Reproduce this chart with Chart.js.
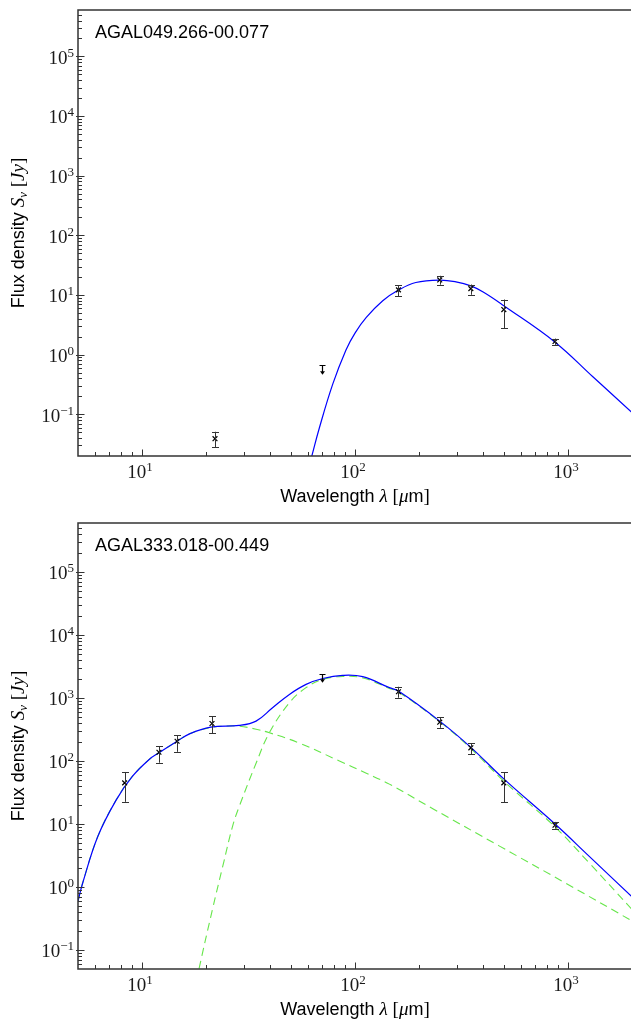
<!DOCTYPE html>
<html><head><meta charset="utf-8">
<script src="https://cdn.jsdelivr.net/npm/chart.js@4/dist/chart.umd.min.js"></script>
<style>
html,body{margin:0;padding:0;background:#fff;overflow:hidden;width:631px;height:1021px;position:relative}
.wrap{position:absolute;left:0;width:640px}
canvas{display:block}
</style></head><body>
<div class="wrap" style="top:0;height:510px"><canvas id="c1" width="640" height="510"></canvas></div>
<div class="wrap" style="top:510px;height:511px"><canvas id="c2" width="640" height="511"></canvas></div>
<script>
// ---------- axis ticks ----------
const xMin = 5, xMax = 2000;
const yMax = 6e5;
const xMajorTicks = [10, 100, 1000];
const xMajorExps = ['1', '2', '3'];
const yMajorTicks = [0.1, 1, 10, 100, 1000, 1e4, 1e5];
const yMajorExps = ['\u22121', '0', '1', '2', '3', '4', '5'];
const minorSubs = [2, 3, 4, 5, 6, 7, 8, 9];
const xTitleParts = ['Wavelength ', '\u03bb', ' [', '\u03bc', 'm', ']'];
const yTitleParts = ['Flux density ', 'S', '\u03bd', ' [', 'Jy', ']'];

// ---------- panel 1 : AGAL049.266-00.077 ----------
const p1Name = 'AGAL049.266-00.077';
const p1Wl   = [22, 160, 250, 350, 500, 870];
const p1Flux = [0.039, 12.2, 17.9, 12.8, 5.7, 1.66];
const p1Lo   = [0.028, 9.6, 14.9, 10.1, 2.8, 1.46];
const p1Hi   = [0.051, 14.5, 21.0, 15.0, 8.4, 1.86];
const p1LimWl = [70], p1LimCap = [0.66], p1LimTip = [0.46];
const p1FitWl   = [58, 62.7, 68, 78.6, 90.7, 100, 113, 135, 160, 193, 250, 298, 350, 400, 500, 870, 1306, 2000];
const p1FitFlux = [0.007, 0.02, 0.059, 0.32, 1.2, 2.3, 4.2, 8.0, 12.1, 16.2, 17.8, 16.6, 14.2, 11.2, 6.6, 1.62, 0.43, 0.107];

// ---------- panel 2 : AGAL333.018-00.449 ----------
const p2Name = 'AGAL333.018-00.449';
const p2Wl   = [8.28, 12.0, 14.6, 21.3, 160, 250, 350, 500, 870];
const p2Flux = [45, 138, 206, 394, 1258, 414, 162, 45, 9.55];
const p2Lo   = [22.5, 94, 140, 274, 1010, 337, 127, 22, 8.45];
const p2Hi   = [67, 172, 257, 516, 1510, 497, 190, 66, 10.8];
const p2LimWl = [70], p2LimCap = [2430], p2LimTip = [1740];
const p2TotWl   = [5, 5.26, 6.2, 7.55, 9, 10.8, 12, 14.6, 16.7, 21, 28.6, 34.3, 41, 49.2, 58.9, 70.5, 87.5, 108.7, 145, 160, 250, 350, 500, 870, 1260, 2000];
const p2TotFlux = [0.6, 1.16, 6.4, 24, 57, 106, 135, 206, 270, 345, 367, 430, 700, 1140, 1645, 2043, 2290, 2180, 1460, 1290, 430, 165, 52, 10, 3.07, 0.7];
const p2ColdWl   = [17.5, 18.5, 21.4, 23.9, 26.6, 28.6, 34.3, 39.6, 49.2, 58.9, 70.5, 87.5, 108, 145, 160, 250, 350, 500, 870, 1260, 2000];
const p2ColdFlux = [0.02, 0.05, 0.44, 2.1, 9.2, 19, 92, 281, 842, 1460, 1977, 2200, 2100, 1420, 1250, 420, 158, 48, 9.0, 2.4, 0.44];
const p2WarmWl   = [5, 5.26, 6.2, 7.55, 9, 10.8, 12, 14.6, 16.7, 21, 25, 28.6, 34.3, 39.6, 55, 84, 113, 145, 232, 475, 977, 2000];
const p2WarmFlux = [0.6, 1.16, 6.4, 24, 57, 106, 135, 206, 270, 340, 360, 357, 320, 281, 192, 101, 64, 43, 17.5, 4.5, 1.15, 0.29];

const SANS = '"Liberation Sans", Arial, sans-serif';
const SERIF = '"Liberation Serif", "DejaVu Serif", serif';
const AXC = '#333333';

function pts(xs, ys) { return xs.map((x, i) => ({x: x, y: ys[i]})); }

function drawParts(ctx, parts, x, y) {
  let cx = x;
  for (const p of parts) {
    ctx.font = p.f;
    ctx.fillText(p.t, cx, y + (p.dy || 0));
    cx += ctx.measureText(p.t).width;
  }
}
function partsWidth(ctx, parts) {
  let w = 0;
  for (const p of parts) { ctx.font = p.f; w += ctx.measureText(p.t).width; }
  return w;
}

function makePlugin(cfg) {
  return {
    id: 'sedDeco',
    afterDatasetsDraw(chart) {
      const ctx = chart.ctx, xs = chart.scales.x, ys = chart.scales.y;
      ctx.save();
      ctx.strokeStyle = '#333';
      ctx.lineWidth = 1;
      for (let i = 0; i < cfg.wl.length; i++) {
        const x = Math.round(xs.getPixelForValue(cfg.wl[i])) + 0.5;
        const yl = ys.getPixelForValue(cfg.lo[i]);
        const yh = ys.getPixelForValue(cfg.hi[i]);
        ctx.beginPath();
        ctx.moveTo(x, yl); ctx.lineTo(x, yh);
        ctx.moveTo(x - 3.5, Math.round(yl) + 0.5); ctx.lineTo(x + 3.5, Math.round(yl) + 0.5);
        ctx.moveTo(x - 3.5, Math.round(yh) + 0.5); ctx.lineTo(x + 3.5, Math.round(yh) + 0.5);
        ctx.stroke();
      }
      ctx.strokeStyle = '#000';
      ctx.fillStyle = '#000';
      for (let i = 0; i < cfg.limWl.length; i++) {
        const x = Math.round(xs.getPixelForValue(cfg.limWl[i])) + 0.5;
        const yc = Math.round(ys.getPixelForValue(cfg.limCap[i])) + 0.5;
        const yt = ys.getPixelForValue(cfg.limTip[i]);
        ctx.lineWidth = 1.2;
        ctx.beginPath();
        ctx.moveTo(x - 3, yc); ctx.lineTo(x + 3, yc);
        ctx.moveTo(x, yc); ctx.lineTo(x, yt - 2);
        ctx.stroke();
        ctx.beginPath();
        ctx.moveTo(x - 2.5, yt - 3.5); ctx.lineTo(x + 2.5, yt - 3.5); ctx.lineTo(x, yt);
        ctx.closePath(); ctx.fill();
      }
      ctx.restore();
    },
    afterDraw(chart) {
      const ctx = chart.ctx, xs = chart.scales.x, ys = chart.scales.y, ca = chart.chartArea;
      ctx.save();
      ctx.strokeStyle = AXC;
      ctx.lineWidth = 1.5;
      ctx.beginPath();
      ctx.moveTo(ca.left, ca.top); ctx.lineTo(ca.right + 20, ca.top);
      ctx.moveTo(ca.left, ca.top - 0.75); ctx.lineTo(ca.left, ca.bottom + 0.75);
      ctx.moveTo(ca.left - 0.75, ca.bottom); ctx.lineTo(ca.right + 20, ca.bottom);
      ctx.stroke();
      ctx.lineWidth = 1;
      ctx.beginPath();
      const yMinV = ys.min, yMaxV = ys.max;
      for (let d = -3; d <= 6; d++) {
        const base = Math.pow(10, d);
        if (base >= xMin && base <= xMax) {
          const px = Math.round(xs.getPixelForValue(base)) + 0.5;
          ctx.moveTo(px, ca.bottom); ctx.lineTo(px, ca.bottom - 6.5);
        }
        for (const s of minorSubs) {
          const v = s * base;
          if (v > xMin && v < xMax) {
            const px = Math.round(xs.getPixelForValue(v)) + 0.5;
            ctx.moveTo(px, ca.bottom); ctx.lineTo(px, ca.bottom - 4);
          }
          if (v > yMinV && v < yMaxV) {
            const py = Math.round(ys.getPixelForValue(v)) + 0.5;
            ctx.moveTo(ca.left, py); ctx.lineTo(ca.left + 4, py);
          }
        }
        if (base >= yMinV && base <= yMaxV) {
          const py = Math.round(ys.getPixelForValue(base)) + 0.5;
          ctx.moveTo(ca.left - 2, py); ctx.lineTo(ca.left + 6.5, py);
        }
      }
      ctx.stroke();
      ctx.fillStyle = '#1a1a1a';
      ctx.textBaseline = 'alphabetic';
      ctx.textAlign = 'left';
      const baseF = '19px ' + SERIF, supF = '13px ' + SERIF;
      yMajorTicks.forEach((v, i) => {
        if (v < yMinV || v > yMaxV) return;
        const py = ys.getPixelForValue(v);
        const parts = [{t: '10', f: baseF}, {t: yMajorExps[i], f: supF, dy: -7}];
        const w = partsWidth(ctx, parts);
        drawParts(ctx, parts, 74 - w, py + 7.3);
      });
      xMajorTicks.forEach((v, i) => {
        const px = xs.getPixelForValue(v);
        const parts = [{t: '10', f: baseF}, {t: xMajorExps[i], f: supF, dy: -7}];
        const w = partsWidth(ctx, parts);
        drawParts(ctx, parts, px - 2 - w / 2, ca.bottom + 21.5);
      });
      ctx.fillStyle = '#000';
      const xParts = [
        {t: xTitleParts[0], f: '18px ' + SANS},
        {t: xTitleParts[1], f: 'italic 19px ' + SERIF},
        {t: xTitleParts[2], f: '19px ' + SERIF},
        {t: xTitleParts[3], f: 'italic 19px ' + SERIF},
        {t: xTitleParts[4], f: '18px ' + SANS},
        {t: xTitleParts[5], f: '19px ' + SERIF}
      ];
      const xw = partsWidth(ctx, xParts);
      const cx = (ca.left + 632) / 2;
      drawParts(ctx, xParts, cx - xw / 2, ca.bottom + 46);
      const yParts = [
        {t: yTitleParts[0], f: '18px ' + SANS},
        {t: yTitleParts[1], f: 'italic 19px ' + SERIF},
        {t: yTitleParts[2], f: 'italic 13px ' + SERIF, dy: 3},
        {t: yTitleParts[3], f: '19px ' + SERIF},
        {t: yTitleParts[4], f: 'italic 19px ' + SERIF},
        {t: yTitleParts[5], f: '19px ' + SERIF}
      ];
      const yw = partsWidth(ctx, yParts);
      const cy = (ca.top + ca.bottom) / 2;
      ctx.save();
      ctx.translate(24, cy);
      ctx.rotate(-Math.PI / 2);
      drawParts(ctx, yParts, -yw / 2, 0);
      ctx.restore();
      ctx.font = '18px ' + SANS;
      ctx.fillText(cfg.name, ca.left + 17, ca.top + 28);
      ctx.restore();
    }
  };
}

function buildChart(id, cfg) {
  const datasets = [{
    type: 'scatter',
    data: pts(cfg.wl, cfg.flux),
    pointStyle: 'crossRot', pointRadius: 3.4, borderColor: '#000', backgroundColor: '#000',
    borderWidth: 1.2, showLine: false, order: 0
  }];
  for (const c of cfg.curves) {
    datasets.push({
      type: 'line', data: pts(c.x, c.y), borderColor: c.color, borderWidth: c.width,
      borderDash: c.dash || [], pointRadius: 0, fill: false,
      tension: 0.4, order: c.order
    });
  }
  return new Chart(document.getElementById(id), {
    type: 'scatter',
    data: {datasets: datasets},
    options: {
      responsive: false, animation: false, events: [],
      plugins: {legend: {display: false}, tooltip: {enabled: false}},
      layout: {padding: {left: 78, top: cfg.padTop, right: 8, bottom: cfg.padBottom}},
      scales: {
        x: {type: 'logarithmic', min: xMin, max: xMax, display: false, bounds: 'data'},
        y: {type: 'logarithmic', min: cfg.yMin, max: yMax, display: false, bounds: 'data'}
      }
    },
    plugins: [makePlugin(cfg)]
  });
}

const GREEN = '#66e64a';
buildChart('c1', {
  name: p1Name, wl: p1Wl, flux: p1Flux, lo: p1Lo, hi: p1Hi,
  limWl: p1LimWl, limCap: p1LimCap, limTip: p1LimTip,
  yMin: 0.02, padTop: 10, padBottom: 54,
  curves: [{x: p1FitWl, y: p1FitFlux, color: '#0000ff', width: 1.2, order: 1}]
});
buildChart('c2', {
  name: p2Name, wl: p2Wl, flux: p2Flux, lo: p2Lo, hi: p2Hi,
  limWl: p2LimWl, limCap: p2LimCap, limTip: p2LimTip,
  yMin: 0.05, padTop: 13, padBottom: 52,
  curves: [
    {x: p2TotWl, y: p2TotFlux, color: '#0000ff', width: 1.2, order: 1},
    {x: p2ColdWl, y: p2ColdFlux, color: GREEN, width: 1.1, dash: [8, 5], order: 2},
    {x: p2WarmWl, y: p2WarmFlux, color: GREEN, width: 1.1, dash: [8, 5], order: 2}
  ]
});
</script>
</body></html>
